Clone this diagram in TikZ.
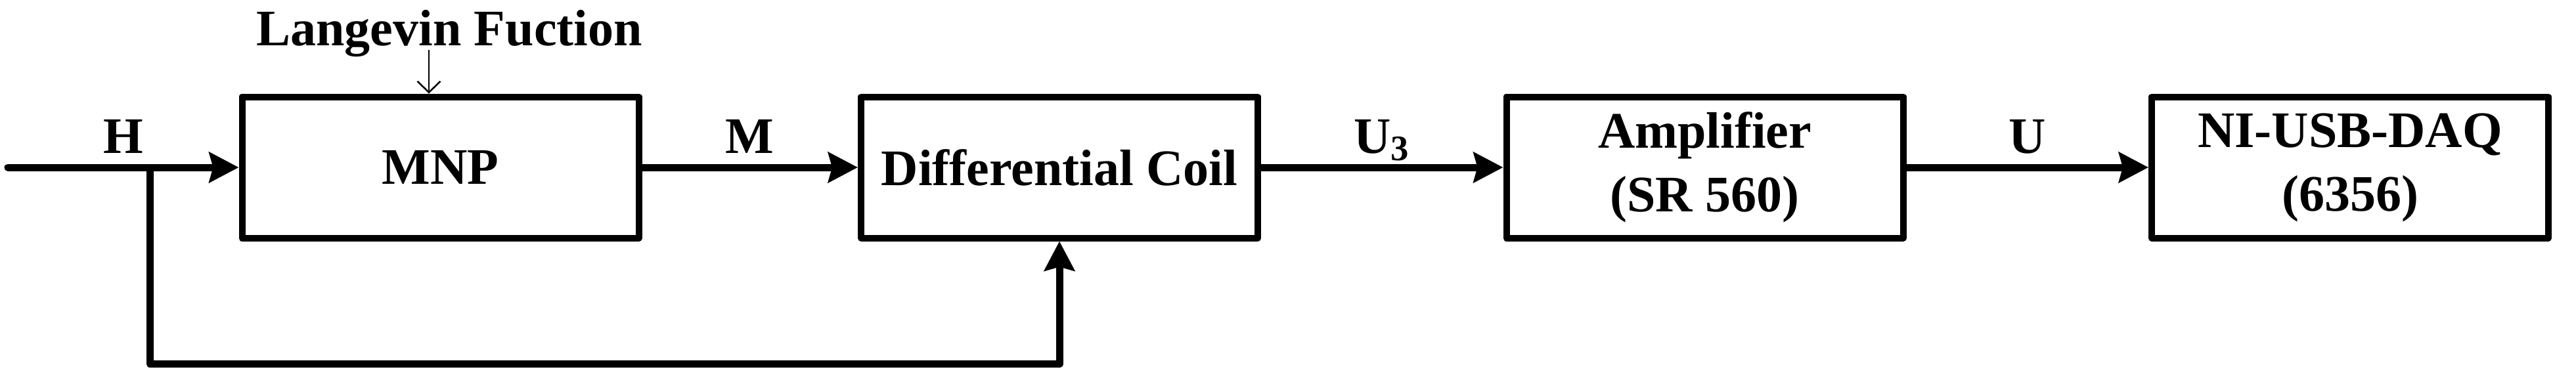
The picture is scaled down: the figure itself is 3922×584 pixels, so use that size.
\documentclass[tikz,border=0pt]{standalone}
\usepackage{fontspec}
\setmainfont{Liberation Serif}
\usetikzlibrary{arrows.meta}
\begin{document}
\begin{tikzpicture}[x=0.1mm,y=-0.1mm,
  every node/.style={font=\fontsize{22.2pt}{27.6pt}\selectfont\bfseries},
  blockbox/.style={draw, line width=1mm, line join=round, minimum width=60.4mm, minimum height=21.5mm, inner sep=0pt, align=center},
  arr/.style={line width=1.1mm, line join=round, -{Stealth[length=4.5mm,width=4.6mm,inset=0.6mm]}},
  thinarr/.style={line width=0.25mm, -{Straight Barb[length=1.7mm,width=3.5mm]}},
  lbl/.style={anchor=base, yshift=2.2mm},
]
\useasboundingbox (0,0) rectangle (3922,584);
\node[blockbox] (mnp) at (670.5,255) {MNP};
\node[blockbox] (dc) at (1613,255) {Differential Coil};
\node[blockbox] (amp) at (2595.5,255) {Amplifier\\(SR 560)};
\node[blockbox] (daq) at (3578,255) {NI-USB-DAQ\\(6356)};
\node[anchor=base] (lang) at (684,69) {Langevin Fuction};
\coordinate (lfa) at (653,76);
\coordinate (in) at (12,255);
\coordinate (split) at (228,255);
\coordinate (fbc) at (228,554);
\draw[thinarr] (lfa) -- (lfa |- mnp.north);
\draw[arr, line cap=round] (in) -- node[lbl] {H} (mnp.west);
\draw[arr] (mnp.east) -- node[lbl] {M} (dc.west);
\draw[arr] (dc.east) -- node[lbl] {U\textsubscript{3}} (amp.west);
\draw[arr] (amp.east) -- node[lbl] {U} (daq.west);
\draw[arr] (split) -- (fbc) -| (dc.south);
\end{tikzpicture}
\end{document}
